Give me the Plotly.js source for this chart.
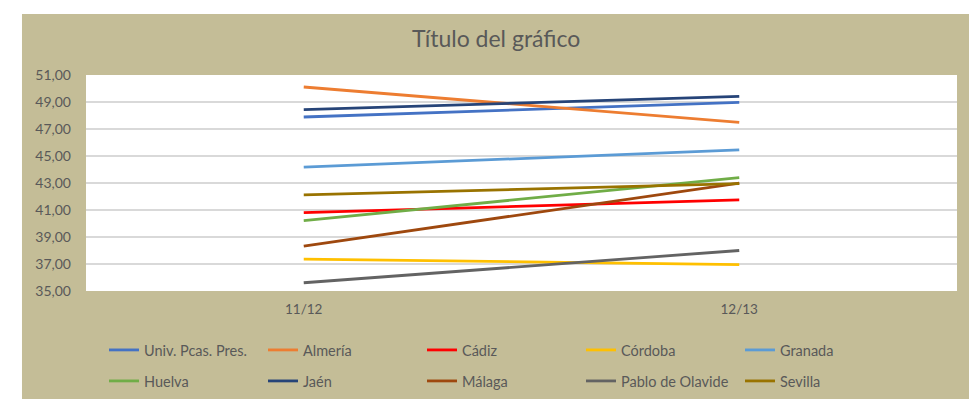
<!DOCTYPE html>
<html>
<head>
<meta charset="utf-8">
<script src="https://cdn.plot.ly/plotly-3.0.1.min.js"></script>
<style>html,body{margin:0;padding:0;background:#fff;}#chart{width:969px;height:405px;}</style>
</head>
<body>
<div id="chart"></div>
<script>
const categories = ["11/12", "12/13"];
const names = ["Univ. Pcas. Pres.", "Almería", "Cádiz", "Córdoba", "Granada",
               "Huelva", "Jaén", "Málaga", "Pablo de Olavide", "Sevilla"];
const univ    = [47.89, 48.97];
const almeria = [50.11, 47.49];
const cadiz   = [40.80, 41.75];
const cordoba = [37.36, 36.96];
const granada = [44.17, 45.46];
const huelva  = [40.21, 43.40];
const jaen    = [48.43, 49.42];
const malaga  = [38.33, 42.99];
const pablo   = [35.61, 38.00];
const sevilla = [42.12, 42.95];
const yTicks = [35, 37, 39, 41, 43, 45, 47, 49, 51];
const yTickLabels = ["35,00","37,00","39,00","41,00","43,00","45,00","47,00","49,00","51,00"];

const seriesValues = [univ, almeria, cadiz, cordoba, granada, huelva, jaen, malaga, pablo, sevilla];
const colors = ["#4472C4", "#ED7D31", "#FF0000", "#FFC000", "#5B9BD5",
                "#70AD47", "#264478", "#9E480E", "#636363", "#997300"];

const FONT = "Lato, 'Open Sans', sans-serif";
const TXT = "#595959";

const traces = seriesValues.map((vals, i) => ({
  type: "scatter",
  mode: "lines",
  x: categories,
  y: vals,
  name: names[i],
  line: {color: colors[i], width: 2.8},
  legend: i < 5 ? "legend" : "legend2",
  hoverinfo: "skip"
}));

const legendCommon = {
  orientation: "h",
  xref: "container", yref: "container",
  x: 0.1073, xanchor: "left",
  bgcolor: "rgba(0,0,0,0)",
  font: {family: FONT, size: 14.5, color: TXT},
  entrywidth: 114, entrywidthmode: "pixels",
  traceorder: "normal"
};

const layout = {
  width: 969, height: 405,
  margin: {l: 86, r: 12, t: 75, b: 114},
  paper_bgcolor: "#ffffff",
  plot_bgcolor: "#ffffff",
  showlegend: true,
  title: {
    text: "Título del gráfico",
    font: {family: FONT, size: 23, color: TXT},
    xref: "container", x: 0.512, xanchor: "center",
    yref: "container", y: 0.905, yanchor: "middle"
  },
  xaxis: {
    type: "category",
    range: [-0.5, 1.5],
    showgrid: false, zeroline: false, showline: false,
    ticks: "",
    tickfont: {family: FONT, size: 13.5, color: TXT},
    ticklabelstandoff: 8
  },
  yaxis: {
    range: [35, 51],
    tickvals: yTicks, ticktext: yTickLabels,
    showgrid: true, gridcolor: "#D9D9D9", gridwidth: 1.2,
    zeroline: false, showline: false,
    ticks: "",
    tickfont: {family: FONT, size: 14, color: TXT},
    ticklabelstandoff: 14
  },
  legend: Object.assign({}, legendCommon, {y: 1 - 350/405, yanchor: "middle"}),
  legend2: Object.assign({}, legendCommon, {y: 1 - 381/405, yanchor: "middle"}),
  shapes: [
    {type: "rect", layer: "below", xref: "paper", yref: "paper",
     x0: -0.0735, x1: 1.02, y0: -0.50, y1: 1.2824,
     fillcolor: "#C4BD97", line: {width: 0}},
    {type: "rect", layer: "below", xref: "paper", yref: "paper",
     x0: 0, x1: 1, y0: 0, y1: 1,
     fillcolor: "#ffffff", line: {width: 0}}
  ]
};

Plotly.newPlot("chart", traces, layout, {displayModeBar: false, staticPlot: true});
</script>
</body>
</html>
